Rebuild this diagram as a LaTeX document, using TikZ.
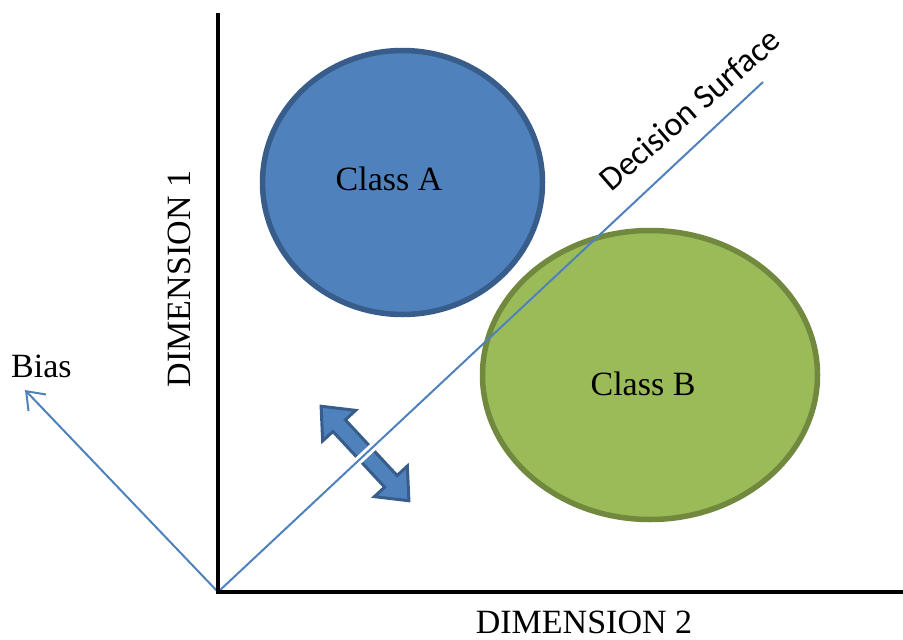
\documentclass[tikz,border=0pt]{standalone}
\usepackage{fontspec}
\setmainfont{Liberation Serif}
\newfontfamily\calib{Carlito}
\usetikzlibrary{arrows.meta,calc,shapes.geometric}
\definecolor{blueF}{HTML}{4F81BD}
\definecolor{blueD}{HTML}{385D8A}
\definecolor{greenF}{HTML}{9BBB59}
\definecolor{greenD}{HTML}{71893F}
\begin{document}
\begin{tikzpicture}[x=1pt,y=-1pt,
  lbl/.style={font=\fontsize{34}{40}\selectfont, inner sep=0pt},
  axisline/.style={line width=3.5pt, black},
  bluethin/.style={line width=2pt, blueF},
  classblob/.style={ellipse, draw, line width=5.5pt, inner sep=0pt},
  dblarrow/.style={fill=blueF, draw=blueD, line width=3pt, line join=miter}]
\useasboundingbox (0,0) rectangle (903,640);
\coordinate (O) at (218,592);
\coordinate (Ytop) at (218,13);
\coordinate (Xend) at (903,592);
\coordinate (DS) at (763,82);
\coordinate (BT) at (25,390);

% class blobs
\node[classblob, fill=greenF, draw=greenD, minimum width=335pt, minimum height=289pt] (B) at (650,375) {};
\node[classblob, fill=blueF, draw=blueD, minimum width=280pt, minimum height=264pt] (A) at (402.5,182.5) {};
\node[lbl] (At) at (389,179) {Class A};
\node[lbl] (Bt) at (643,384) {Class B};

% double arrow
\begin{scope}[shift={(365,453.5)}, rotate=-47.1]
\draw[dblarrow] (-64.5,0) -- (-38,22.5) -- (-38,8.5) -- (38,8.5) -- (38,22.5) -- (64.5,0)
   -- (38,-22.5) -- (38,-8.5) -- (-38,-8.5) -- (-38,-22.5) -- cycle;
\end{scope}

% decision surface line with white gap through the arrow
\draw[white, line width=8pt] ($(O)!0.2!(DS)$) -- ($(O)!0.34!(DS)$);
\draw[bluethin] (O) -- (DS);
\node[font=\calib\fontsize{34}{40}\selectfont, rotate=41, anchor=base, inner sep=0pt] (dsl) at (697,118) {Decision Surface};

% bias arrow
\draw[bluethin, -{Straight Barb[length=16pt, width=24pt, line width=2pt]}] (O) -- (BT);
\node[lbl, anchor=base west] (bias) at (11,377) {Bias};

% axes
\draw[axisline] (Ytop) -- (O) -- (Xend);
\node[lbl, rotate=90] (d1) at (179,279) {DIMENSION 1};
\node[lbl] (d2) at (584,622) {DIMENSION 2};
\end{tikzpicture}
\end{document}
